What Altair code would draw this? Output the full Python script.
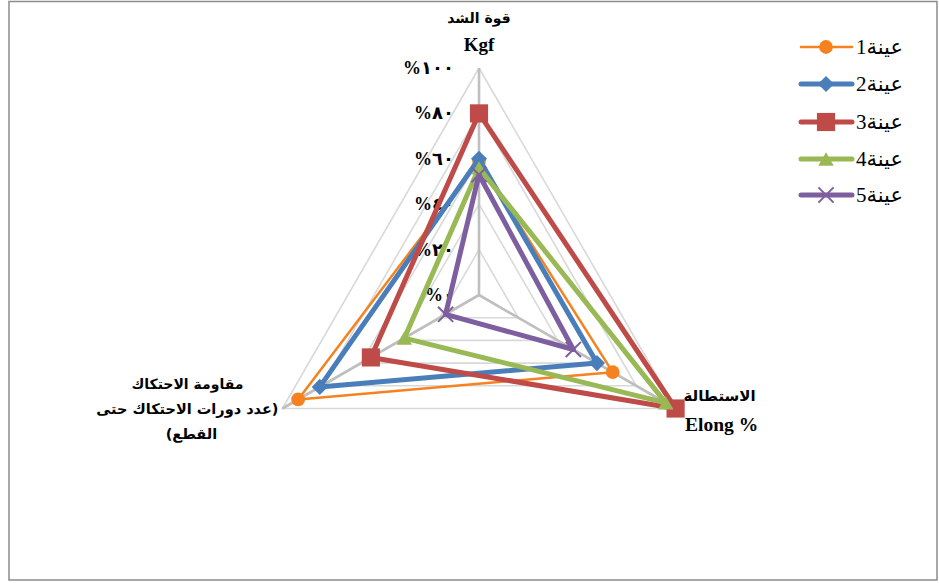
import math
import altair as alt
import pandas as pd

# Radar axes (clockwise from the top) and their titles
axis_angles = [90, -30, 210]
axis_titles = [
    ["قوة الشد", "Kgf"],
    ["الاستطالة", "Elong %"],
    ["مقاومة  الاحتكاك", "\u200f(عدد دورات الاحتكاك حتى", "القطع)\u200f"],
]

# Samples and their values (% of the axis maximum)
series_names = ["عينة1", "عينة2", "عينة3", "عينة4", "عينة5"]
tensile = [59, 60, 80, 56, 53]
elongation = [68, 60, 100, 95, 48]
abrasion = [92, 81, 55, 38, 17]

grid_levels = [0, 20, 40, 60, 80, 100]
tick_labels = ["%٠", "%٢٠", "%٤٠", "%٦٠", "%٨٠", "%١٠٠"]

colors = ["#F5821F", "#4A7EBB", "#BE4B48", "#98B954", "#7D5FA0"]
line_widths = [2.5, 5, 5, 5, 5]
shapes = ["circle", "diamond", "square", "triangle-up", "M-1,-1L1,1M-1,1L1,-1"]
sizes = [190, 260, 330, 240, 230]

W, H = 939, 583
CX, CY, R = 479, 295, 227  # centre and 100% radius in pixels

x_scale = alt.Scale(domain=[-CX / R * 100, (W - CX) / R * 100], nice=False, zero=False)
y_scale = alt.Scale(domain=[-(H - CY) / R * 100, CY / R * 100], nice=False, zero=False)

ARABIC_FONT = "DejaVu Sans"
LATIN_FONT = "Liberation Serif"


def polar(v, ang):
    a = math.radians(ang)
    return v * math.cos(a), v * math.sin(a)


def X(field):
    return alt.X(field, type="quantitative", scale=x_scale, axis=None)


def Y(field):
    return alt.Y(field, type="quantitative", scale=y_scale, axis=None)


def is_latin(s):
    return all(ord(c) < 0x600 for c in s)


layers = []

# outer frame
layers.append(
    alt.Chart(pd.DataFrame({"k": [0]}))
    .mark_rect(fill=None, stroke="#8C8C8C", strokeWidth=1.5)
    .encode(x=alt.value(9), x2=alt.value(937), y=alt.value(1.5), y2=alt.value(580))
)

# grid triangles
grid_rows = []
for lv in grid_levels[1:]:
    for k in range(4):
        gx, gy = polar(lv, axis_angles[k % 3])
        grid_rows.append({"level": lv, "ord": k, "x": gx, "y": gy})
layers.append(
    alt.Chart(pd.DataFrame(grid_rows))
    .mark_line(color="#D9D9D9", strokeWidth=1.6)
    .encode(x=X("x"), y=Y("y"), detail="level:N", order="ord:Q")
)

# spokes
spoke_rows = []
for ang in axis_angles:
    sx, sy = polar(100, ang)
    spoke_rows.append({"x0": 0, "y0": 0, "x1": sx, "y1": sy})
layers.append(
    alt.Chart(pd.DataFrame(spoke_rows))
    .mark_rule(color="#BFBFBF", strokeWidth=2.6)
    .encode(x=X("x0"), y=Y("y0"), x2="x1:Q", y2="y1:Q")
)

# tick labels along the top axis
tick_df = pd.DataFrame({"x": [0] * len(grid_levels), "y": grid_levels, "label": tick_labels})
layers.append(
    alt.Chart(tick_df)
    .mark_text(align="right", baseline="middle", dx=-25, dy=1, fontSize=18,
               fontWeight="bold", font=LATIN_FONT + ", " + ARABIC_FONT, color="#000000")
    .encode(x=X("x"), y=Y("y"), text="label:N")
)

# axis titles
title_offsets = [
    [(0, -49), (0, -23)],
    [(44, -13), (46, 16)],
    [(-95, -24), (-95, 1), (-91, 26)],
]
title_sizes = [[14, 19], [15, 19.5], [14, 14.5, 14.5]]
for ang, lines, offs, fsz in zip(axis_angles, axis_titles, title_offsets, title_sizes):
    vx, vy = polar(100, ang)
    for text, (dx, dy), fs in zip(lines, offs, fsz):
        font = LATIN_FONT if is_latin(text) else ARABIC_FONT
        layers.append(
            alt.Chart(pd.DataFrame({"x": [vx], "y": [vy], "t": [text]}))
            .mark_text(align="center", baseline="middle", dx=dx, dy=dy, fontSize=fs,
                       fontWeight="bold", font=font, color="#000000")
            .encode(x=X("x"), y=Y("y"), text="t:N")
        )

# sample polygons with markers
for i, name in enumerate(series_names):
    vals = [tensile[i], elongation[i], abrasion[i]]
    rows = []
    for k in range(4):
        px, py = polar(vals[k % 3], axis_angles[k % 3])
        rows.append({"sample": name, "ord": k, "x": px, "y": py})
    df = pd.DataFrame(rows)
    layers.append(
        alt.Chart(df)
        .mark_line(color=colors[i], strokeWidth=line_widths[i], strokeJoin="round")
        .encode(x=X("x"), y=Y("y"), order="ord:Q")
    )
    is_cross = i == 4
    layers.append(
        alt.Chart(df[df["ord"] < 3])
        .mark_point(shape=shapes[i], size=sizes[i], filled=not is_cross,
                    color=colors[i], opacity=1,
                    strokeWidth=2 if is_cross else 1)
        .encode(x=X("x"), y=Y("y"))
    )

# legend
leg_rows_y = [47, 84, 122, 159, 195]
for i, name in enumerate(series_names):
    ly = leg_rows_y[i]
    base = alt.Chart(pd.DataFrame({"label": [name]}))
    layers.append(
        base.mark_rule(color=colors[i], strokeWidth=line_widths[i], strokeCap="round")
        .encode(x=alt.value(801), x2=alt.value(852), y=alt.value(ly))
    )
    is_cross = i == 4
    layers.append(
        base.mark_point(shape=shapes[i], size=sizes[i], filled=not is_cross,
                        color=colors[i], opacity=1,
                        strokeWidth=2 if is_cross else 1)
        .encode(x=alt.value(826), y=alt.value(ly))
    )
    layers.append(
        base.mark_text(align="left", baseline="middle", fontSize=21,
                       font=LATIN_FONT + ", " + ARABIC_FONT, color="#000000")
        .encode(x=alt.value(856), y=alt.value(ly + 1), text="label:N")
    )

chart = (
    alt.layer(*layers)
    .properties(width=W, height=H, padding=0, autosize=alt.AutoSizeParams(type="none"),
                background="#FFFFFF")
    .configure_view(stroke=None)
)

chart.save("out.html", embed_options={"renderer": "svg", "actions": False})
